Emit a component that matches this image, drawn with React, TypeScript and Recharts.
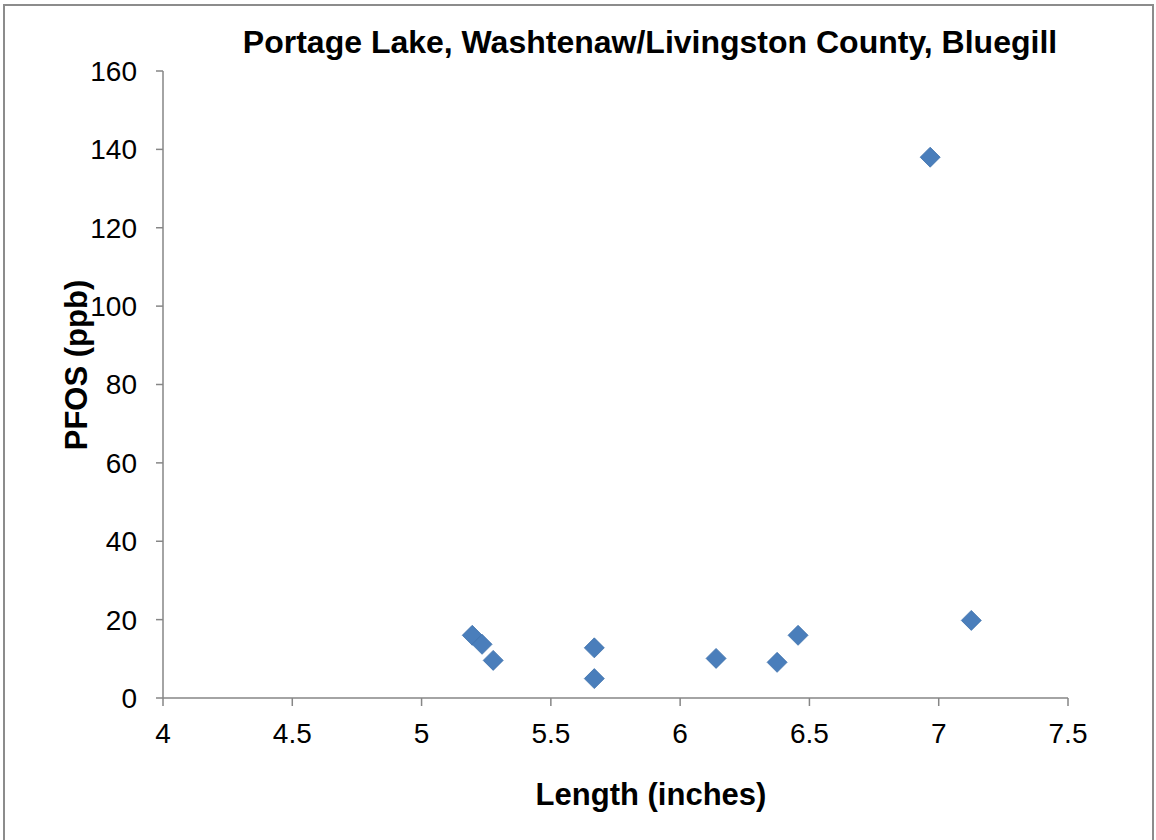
import React from 'react'
import { ScatterChart, Scatter, XAxis, YAxis, Label } from 'recharts'

// Portage Lake bluegill samples: fish length vs PFOS concentration
const lengthInches = [5.196, 5.234, 5.277, 5.668, 5.668, 6.139, 6.375, 6.456, 6.967, 7.126]
const pfosPpb = [16.0, 13.7, 9.6, 12.8, 4.95, 10.1, 9.1, 16.0, 138.0, 19.8]
const xTicks = [4, 4.5, 5, 5.5, 6, 6.5, 7, 7.5]
const yTicks = [0, 20, 40, 60, 80, 100, 120, 140, 160]

const FONT = '"Liberation Sans", Arial, sans-serif'
const AXIS_GRAY = '#868686'

const points = lengthInches.map((x, i) => ({ x, y: pfosPpb[i] }))

function Diamond(props: any) {
  const { cx, cy } = props
  const r = 10
  return (
    <polygon
      points={`${cx},${cy - r} ${cx + r},${cy} ${cx},${cy + r} ${cx - r},${cy}`}
      fill="#4A7EBB"
      stroke="#3F71AB"
      strokeWidth={0.8}
    />
  )
}

export default function App() {
  return (
    <div
      style={{
        position: 'absolute',
        left: 0,
        top: 0,
        width: 1156,
        height: 840,
        overflow: 'hidden',
        background: '#fff',
        fontFamily: FONT,
      }}
    >
      <div
        style={{
          position: 'absolute',
          left: 3,
          top: 4,
          width: 1147,
          height: 900,
          border: '2px solid #8c8c8c',
        }}
      />
      <div
        style={{
          position: 'absolute',
          left: 0,
          top: 26,
          width: 1300,
          textAlign: 'center',
          fontWeight: 'bold',
          fontSize: 32,
          lineHeight: '32px',
          color: '#000',
        }}
      >
        Portage Lake, Washtenaw/Livingston County, Bluegill
      </div>
      <div style={{ position: 'absolute', left: 0, top: 0 }}>
        <ScatterChart
          width={1156}
          height={840}
          margin={{ top: 71, right: 88, bottom: 82, left: 0 }}
        >
          <XAxis
            type="number"
            dataKey="x"
            domain={[4, 7.5]}
            ticks={xTicks}
            interval={0}
            height={60}
            tickSize={8}
            tickMargin={17}
            stroke={AXIS_GRAY}
            strokeWidth={1.5}
            tick={{ fontSize: 28, fill: '#000', fontFamily: FONT }}
          >
            <Label
              content={() => (
                <text
                  x={651}
                  y={805}
                  textAnchor="middle"
                  fontSize={31}
                  fontWeight="bold"
                  fontFamily={FONT}
                  fill="#000"
                >
                  Length (inches)
                </text>
              )}
            />
          </XAxis>
          <YAxis
            type="number"
            dataKey="y"
            domain={[0, 160]}
            ticks={yTicks}
            interval={0}
            width={163}
            tickSize={7}
            tickMargin={19}
            stroke={AXIS_GRAY}
            strokeWidth={1.5}
            tick={{ fontSize: 28, fill: '#000', fontFamily: FONT }}
          >
            <Label
              content={() => (
                <text
                  x={87}
                  y={365}
                  transform="rotate(-90, 87, 365)"
                  textAnchor="middle"
                  fontSize={31}
                  fontWeight="bold"
                  fontFamily={FONT}
                  fill="#000"
                >
                  PFOS (ppb)
                </text>
              )}
            />
          </YAxis>
          <Scatter data={points} shape={Diamond} isAnimationActive={false} />
        </ScatterChart>
      </div>
    </div>
  )
}
